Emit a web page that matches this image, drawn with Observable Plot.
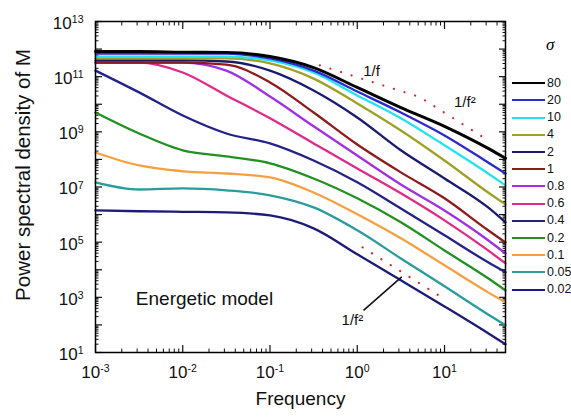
<!DOCTYPE html>
<html><head><meta charset="utf-8">
<script src="https://cdn.jsdelivr.net/npm/d3@7"></script>
<script src="https://cdn.jsdelivr.net/npm/@observablehq/plot@0.6"></script>
<style>
body{margin:0;background:#fff;overflow:hidden;font-family:"Liberation Sans",Arial,sans-serif;}
#wrap{position:relative;width:571px;height:417px;overflow:hidden;}
.lg{position:absolute;left:512px;width:33px;height:0;border-top:2.4px solid;}
.lt{position:absolute;left:547px;font-size:12.5px;line-height:1;white-space:nowrap;color:#111;}
.sig{position:absolute;left:546px;top:35px;font-family:"Liberation Serif","Times New Roman",serif;font-style:italic;font-size:17px;}
</style></head><body><div id="wrap"></div>
<script>
// sigma values (legend order) and colours
const sigmas = ["80","20","10","4","2","1","0.8","0.6","0.4","0.2","0.1","0.05","0.02"];
const colors = ["#000000","#2a2ad0","#20e4f0","#a0a028","#1a1a70","#8c1c1c","#a030e0","#e02a8a","#222288","#229022","#f5a040","#2a9c9c","#1c1c78"];
// sampled frequencies
const freqs = [0.001, 0.00316, 0.01, 0.0316, 0.1, 0.316, 1, 3.16, 10, 31.6, 50];
// log10 of power spectral density
const s80  = [11.91, 11.91, 11.89, 11.88, 11.73, 11.33, 10.61, 9.88, 9.20, 8.40, 8.04];
const s20  = [11.84, 11.84, 11.84, 11.84, 11.66, 11.22, 10.46, 9.70, 8.87, 7.89, 7.49];
const s10  = [11.73, 11.73, 11.73, 11.73, 11.59, 11.15, 10.32, 9.49, 8.51, 7.49, 7.06];
const s4   = [11.66, 11.66, 11.66, 11.66, 11.48, 10.93, 10.03, 9.05, 7.96, 6.80, 6.37];
const s2   = [11.59, 11.59, 11.59, 11.55, 11.22, 10.50, 9.52, 8.33, 7.31, 6.26, 5.72];
const s1   = [11.51, 11.51, 11.51, 11.44, 10.79, 9.70, 8.54, 7.53, 6.59, 5.43, 4.99];
const s08  = [11.51, 11.51, 11.51, 11.22, 10.28, 9.20, 8.14, 7.09, 6.15, 5.07, 4.59];
const s06  = [11.51, 11.51, 11.15, 10.32, 9.49, 8.58, 7.67, 6.77, 5.79, 4.70, 4.23];
const s04  = [11.22, 10.43, 9.59, 8.94, 8.58, 7.96, 7.17, 6.22, 5.25, 4.27, 3.91];
const s02  = [9.70, 8.94, 8.33, 8.11, 7.86, 7.31, 6.59, 5.72, 4.70, 3.69, 3.25];
const s01  = [8.25, 7.78, 7.57, 7.49, 7.35, 6.80, 6.01, 5.14, 4.16, 3.18, 2.82];
const s005 = [7.17, 6.91, 6.95, 6.88, 6.70, 6.26, 5.43, 4.41, 3.40, 2.38, 1.99];
const s002 = [6.15, 6.12, 6.10, 6.08, 5.97, 5.50, 4.56, 3.62, 2.67, 1.70, 1.30];
const series = [s80, s20, s10, s4, s2, s1, s08, s06, s04, s02, s01, s005, s002];

// reference slope guides (dotted)
const guideUpperF = [0.372, 5.2, 33];
const guideUpperP = [2.57e11, 1.83e10, 4.5e8];
const guideLowerF = [1.15, 9.6];
const guideLowerP = [6.5e4, 940];
// annotations
const annF = [1.46, 17.1, 0.88];
const annP = [1.55e11, 1.17e10, 147];
const annText = ["1/f", "1/f\u00B2", "1/f\u00B2"];
const arrowF = [1.18, 3.23];
const arrowP = [338, 5.5e3];
const modelLabel = {f: 0.0029, p: 850, text: "Energetic model"};

// ticks
const xTicks = [0.001, 0.01, 0.1, 1, 10];
const yTicks = [1e1, 1e3, 1e5, 1e7, 1e9, 1e11, 1e13];
const yDecades = d3.range(1, 14).map(e => 10 ** e);
const xMinor = [], yMinor = [];
for (let e = -3; e <= 1; e++) for (let m = 2; m <= 9; m++) { const v = m * 10 ** e; if (v <= 50) xMinor.push(v); }
for (let e = 1; e <= 12; e++) for (let m = 2; m <= 9; m++) yMinor.push(m * 10 ** e);

const rows = [];
series.forEach((s, i) => freqs.forEach((f, j) => rows.push({sigma: sigmas[i], order: i, f, p: 10 ** s[j]})));
const upper = guideUpperF.map((f, i) => ({f, p: guideUpperP[i]}));
const lower = guideLowerF.map((f, i) => ({f, p: guideLowerP[i]}));
const ann = annF.map((f, i) => ({f, p: annP[i], text: annText[i]}));

const fmt = d => "10^" + Math.round(Math.log10(d));
const blank = () => "";
const tickAxes = [];
for (const a of ["bottom", "top"]) {
  tickAxes.push(Plot.axisX(xTicks, {anchor: a, tickSize: -7, tickFormat: blank, label: null, strokeWidth: 1.2}));
  tickAxes.push(Plot.axisX(xMinor, {anchor: a, tickSize: -3.5, tickFormat: blank, label: null}));
}
for (const a of ["left", "right"]) {
  tickAxes.push(Plot.axisY(yDecades, {anchor: a, tickSize: -7, tickFormat: blank, label: null, strokeWidth: 1.2}));
  tickAxes.push(Plot.axisY(yMinor, {anchor: a, tickSize: -3.5, tickFormat: blank, label: null}));
}

const dotted = {stroke: "#e02828", strokeWidth: 2.2, strokeDasharray: "0.1 11", strokeLinecap: "round"};

const plot = Plot.plot({
  width: 571, height: 417,
  marginLeft: 95, marginRight: 66, marginTop: 21, marginBottom: 65,
  style: {fontFamily: "'Liberation Sans', Arial, sans-serif", background: "white", color: "#111"},
  x: {type: "log", domain: [1e-3, 50], label: null},
  y: {type: "log", domain: [1e1, 1e13], label: null},
  color: {domain: sigmas, range: colors},
  marks: [
    ...tickAxes,
    Plot.axisX(xTicks, {anchor: "bottom", tickSize: 0, tickPadding: 13, tickFormat: fmt, fontSize: 17, label: null}),
    Plot.axisY(yTicks, {anchor: "left", tickSize: 0, tickPadding: 12, tickFormat: fmt, fontSize: 17, dy: 2, label: null}),
    Plot.line(rows.slice().reverse(), {x: "f", y: "p", z: "sigma", stroke: "sigma", strokeWidth: d => d.sigma === "80" ? 2.9 : 2.3, curve: "monotone-x"}),
    Plot.line(upper, {x: "f", y: "p", ...dotted}),
    Plot.line(lower, {x: "f", y: "p", ...dotted}),
    Plot.link([0], {x1: () => arrowF[0], y1: () => arrowP[0], x2: () => arrowF[1], y2: () => arrowP[1], stroke: "#111", strokeWidth: 1.6}),
    Plot.text(ann, {x: "f", y: "p", text: "text", fontSize: 15, fill: "#111"}),
    Plot.text([modelLabel], {x: "f", y: "p", text: "text", textAnchor: "start", fontSize: 19, fill: "#111"}),
    Plot.text(["Frequency"], {frameAnchor: "bottom", text: d => d, dy: 52, fontSize: 19, fill: "#111"}),
    Plot.text(["Power spectral density of M"], {frameAnchor: "left", textAnchor: "middle", text: d => d, rotate: -90, dx: -72.5, dy: -12, fontSize: 20.5, fill: "#111"}),
    Plot.frame({stroke: "#000", strokeWidth: 1.5})
  ]
});

// superscript exponents
plot.querySelectorAll("text").forEach(t => {
  const s = t.textContent;
  if (!s.startsWith("10^")) return;
  const e = s.slice(3);
  t.textContent = "10";
  const ts = document.createElementNS("http://www.w3.org/2000/svg", "tspan");
  ts.setAttribute("dy", "-0.55em");
  ts.setAttribute("font-size", "0.62em");
  ts.textContent = e;
  t.appendChild(ts);
});

const wrap = document.getElementById("wrap");
wrap.appendChild(plot);
const sig = document.createElement("div");
sig.className = "sig"; sig.textContent = "\u03C3";
wrap.appendChild(sig);
sigmas.forEach((s, i) => {
  const y = 83.3 + i * 17.2;
  const l = document.createElement("div");
  l.className = "lg"; l.style.top = (y - 1.2) + "px"; l.style.borderTopColor = colors[i];
  const t = document.createElement("div");
  t.className = "lt"; t.style.top = (y - 6.5) + "px"; t.textContent = s;
  wrap.appendChild(l); wrap.appendChild(t);
});
</script></body></html>
